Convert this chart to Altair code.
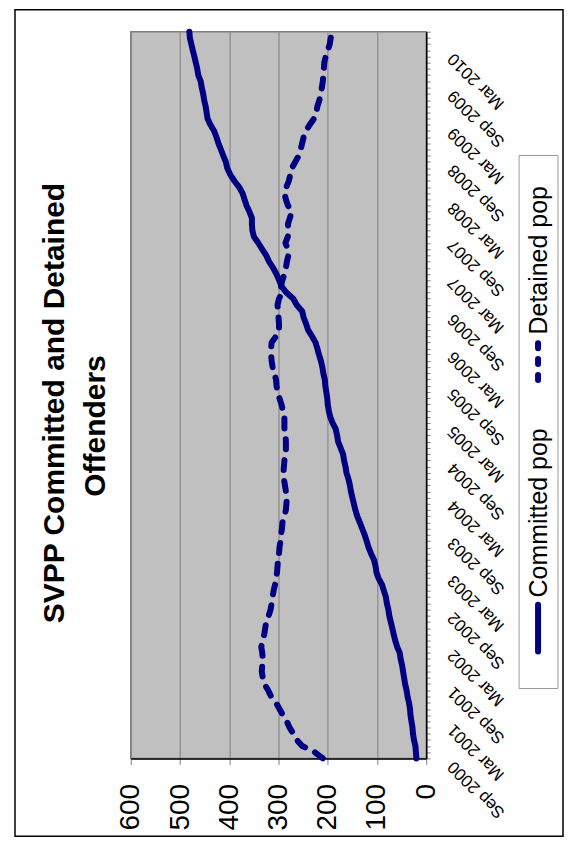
import altair as alt
import pandas as pd

# ---------------- data ----------------
series_names = ["Committed pop", "Detained pop"]
title_lines = ["SVPP Committed and Detained", "Offenders"]
value_ticks = [0, 100, 200, 300, 400, 500, 600]

# monthly observations, Sep 2000 .. Jun 2010
months = pd.date_range("2000-09-01", periods=118, freq="MS")

committed = [
    20, 21, 22, 25, 27, 28, 30, 32, 33, 35, 38, 40, 43, 45, 47, 49, 52, 54, 59, 63,
    66, 69, 72, 75, 77, 80, 82, 86, 90, 97, 101, 103, 106, 112, 117, 121, 125, 130, 135, 140,
    144, 147, 150, 153, 155, 158, 162, 164, 167, 169, 174, 179, 181, 184, 190, 195, 198, 200, 201, 203,
    205, 206, 209, 211, 214, 218, 221, 225, 232, 240, 244, 249, 252, 263, 270, 284, 294, 299, 304, 311,
    319, 325, 333, 341, 350, 353, 354, 354, 359, 365, 369, 373, 380, 390, 398, 404, 407, 412, 417, 422,
    426, 431, 438, 444, 446, 448, 451, 453, 456, 458, 463, 465, 468, 471, 474, 477, 480, 481,
]

detained = [
    210, 226, 252, 263, 270, 278, 283, 291, 298, 305, 315, 321, 329, 332, 334, 333, 332, 333, 335, 332,
    329, 327, 325, 320, 316, 314, 312, 310, 307, 305, 303, 302, 301, 299, 298, 296, 295, 293, 292, 288,
    285, 284, 283, 285, 287, 289, 290, 289, 288, 285, 285, 285, 286, 288, 288, 288, 291, 294, 298, 302,
    304, 305, 309, 312, 314, 315, 315, 314, 305, 299, 299, 300, 301, 302, 299, 293, 295, 292, 288, 285,
    283, 280, 281, 286, 281, 279, 281, 277, 273, 281, 285, 288, 284, 279, 276, 273, 266, 259, 255, 252,
    249, 244, 237, 228, 223, 221, 217, 214, 212, 210, 209, 208, 207, 204, 200, 196, 194, 192,
]

date_str = [d.strftime("%Y-%m-%dT00:00:00") for d in months]
df = pd.DataFrame({
    "date": date_str * 2,
    "value": committed + detained,
    "series": [series_names[0]] * len(committed) + [series_names[1]] * len(detained),
})

# ---------------- styling ----------------
W, H = 296, 728
NAVY = "#000080"
FONT = "Liberation Sans"
LW = 6

tick_values = [alt.DateTime(year=int(d.year), month=int(d.month), date=1) for d in months]

y_enc = alt.Y(
    "date:T",
    scale=alt.Scale(
        domain=[alt.DateTime(year=2000, month=9, date=1), alt.DateTime(year=2010, month=6, date=1)],
        nice=False,
    ),
    axis=alt.Axis(
        orient="right", values=tick_values,
        labelExpr="(month(datum.value) == 2 || month(datum.value) == 8) ? timeFormat(datum.value, '%b %Y') : ''",
        labelAngle=225, labelAlign="right", labelBaseline="middle",
        labelFont=FONT, labelFontSize=17, labelColor="black",
        labelPadding=20, labelOffset=5, labelOverlap=False, labelFlush=False,
        tickSize=4, tickColor="#888888", tickWidth=1,
        domainColor="black", domainWidth=1.5, grid=False, title=None,
    ),
)

x_enc = alt.X(
    "value:Q",
    scale=alt.Scale(domain=[0, 600], reverse=True, nice=False),
    axis=alt.Axis(
        orient="bottom", values=value_ticks,
        labelAngle=270, labelAlign="right", labelBaseline="middle",
        labelFont=FONT, labelFontSize=28, labelColor="black",
        labelPadding=19, labelFlush=False,
        tickSize=6, tickColor="#808080", tickWidth=1,
        domainColor="black", domainWidth=1.5,
        grid=True, gridColor="#808080", gridWidth=1, title=None,
    ),
)

base = alt.Chart(df).encode(x=x_enc, y=y_enc, order=alt.Order("date:T"))

committed_line = base.transform_filter(alt.datum.series == series_names[0]).mark_line(
    color=NAVY, strokeWidth=LW, strokeCap="round", strokeJoin="round"
)
detained_line = base.transform_filter(alt.datum.series == series_names[1]).mark_line(
    color=NAVY, strokeWidth=LW, strokeCap="round", strokeJoin="round", strokeDash=[10, 11]
)

one = alt.Data(values=[{"k": 0}])

frame = alt.Chart(one).mark_rect(fill="white", fillOpacity=0, stroke="black", strokeWidth=1.5).encode(
    x=alt.value(-116), x2=alt.value(433), y=alt.value(-22), y2=alt.value(806)
)

legend_box = alt.Chart(one).mark_rect(fill="white", stroke="#999999", strokeWidth=1).encode(
    x=alt.value(389), x2=alt.value(428), y=alt.value(124), y2=alt.value(658)
)
legend_sym_c = alt.Chart(one).mark_rule(color=NAVY, strokeWidth=LW, strokeCap="round").encode(
    x=alt.value(408), y=alt.value(574), y2=alt.value(621)
)
legend_sym_d = alt.Chart(one).mark_rule(color=NAVY, strokeWidth=LW, strokeCap="round", strokeDash=[5, 11]).encode(
    x=alt.value(408), y=alt.value(312), y2=alt.value(360)
)
legend_txt_c = alt.Chart(one).mark_text(
    text=series_names[0], angle=270, font=FONT, fontSize=25, align="center", baseline="middle", color="black"
).encode(x=alt.value(409), y=alt.value(482))
legend_txt_d = alt.Chart(one).mark_text(
    text=series_names[1], angle=270, font=FONT, fontSize=25, align="center", baseline="middle", color="black"
).encode(x=alt.value(409), y=alt.value(229))

title1 = alt.Chart(one).mark_text(
    text=title_lines[0], angle=270, font=FONT, fontSize=30, fontWeight="bold",
    align="center", baseline="middle", color="black"
).encode(x=alt.value(-76), y=alt.value(372))
title2 = alt.Chart(one).mark_text(
    text=title_lines[1], angle=270, font=FONT, fontSize=30, fontWeight="bold",
    align="center", baseline="middle", color="black"
).encode(x=alt.value(-35), y=alt.value(395))

chart = alt.layer(
    frame, committed_line, detained_line,
    legend_box, legend_sym_c, legend_sym_d, legend_txt_c, legend_txt_d,
    title1, title2,
).properties(
    width=W, height=H,
    padding={"left": 6, "top": 0, "right": 0, "bottom": 0},
    background="white",
).configure_view(
    fill="#C0C0C0", stroke="#808080", strokeWidth=1.5
)

chart.save("out.html", embed_options={"renderer": "svg", "actions": False})
